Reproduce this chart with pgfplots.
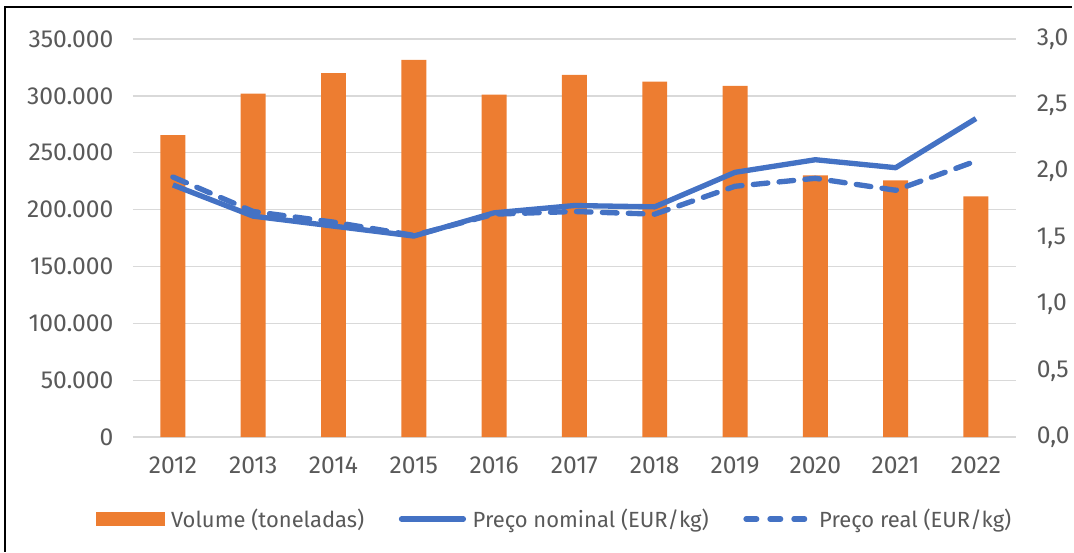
\documentclass[border=0pt]{standalone}
\usepackage{pgfplots}
\pgfplotsset{compat=1.18}
\usepackage{fontspec}
\setmainfont{Fira Sans}
\definecolor{cOrange}{HTML}{ED7D31}
\definecolor{cBlue}{HTML}{4472C4}
\definecolor{cGrid}{HTML}{D9D9D9}
\definecolor{cText}{HTML}{595959}
\pgfplotstableread{
x vol nom real
0 265500 1.90 1.96
1 302000 1.665 1.70
2 320000 1.59 1.62
3 331500 1.515 1.52
4 301000 1.69 1.68
5 318500 1.745 1.70
6 312500 1.735 1.68
7 308800 1.995 1.89
8 230000 2.09 1.95
9 225700 2.03 1.86
10 211700 2.40 2.08
}\datatable
\begin{document}
\begin{tikzpicture}
\path (0,0) rectangle (805.5pt,414.75pt);
\draw[black, line width=1.5pt] (3.75pt,0) -- (3.75pt,409.5pt) -- (805.5pt,409.5pt);
\pgfplotsset{
  every axis/.append style={
    scale only axis,
    width=663.75pt, height=299.25pt,
    at={(99.75pt,86.25pt)}, anchor=south west,
    xmin=-0.5, xmax=10.5,
    axis line style={draw=none},
    major tick length=0pt,
    scaled y ticks=false,
    tick label style={font=\fontsize{18.5}{22}\selectfont, text=cText},
  }
}
\begin{axis}[
  ymin=0, ymax=350000,
  ytick={0,50000,100000,150000,200000,250000,300000,350000},
  yticklabels={0,50.000,100.000,150.000,200.000,250.000,300.000,350.000},
  yticklabel style={xshift=-11pt},
  ymajorgrids, grid style={cGrid, line width=1.1pt},
  xtick={0,...,10},
  xticklabels={2012,2013,2014,2015,2016,2017,2018,2019,2020,2021,2022},
  xticklabel style={yshift=-11pt},
  ybar, bar width=18.75pt,
]
\addplot[fill=cOrange, draw=none] table[x=x, y=vol] {\datatable};
\end{axis}
\begin{axis}[
  ymin=0, ymax=3,
  ytick={0,0.5,1,1.5,2,2.5,3},
  yticklabels={{0,0},{0,5},{1,0},{1,5},{2,0},{2,5},{3,0}},
  axis y line*=right,
  axis x line=none,
  yticklabel style={xshift=12pt},
  legend style={at={(0.478,-0.2055)}, anchor=center, draw=none, fill=none,
    font=\fontsize{16.5}{20}\selectfont, text=cText,
    /tikz/every odd column/.append style={column sep=3pt},
    /tikz/every even column/.append style={column sep=24pt}},
  legend columns=3,
]
\addlegendimage{legend image code/.code={\fill[cOrange] (0pt,-5pt) rectangle (51pt,5pt);}}
\addlegendentry{Volume (toneladas)}
\addplot[cBlue, line width=4pt, line join=round,
  legend image code/.code={\draw[cBlue, line width=4pt, line cap=round] (1.5pt,0pt) -- (48pt,0pt);}]
  table[x=x, y=nom] {\datatable};
\addlegendentry{Preço nominal (EUR/kg)}
\addplot[cBlue, line width=4pt, line join=round, line cap=round, dash pattern=on 11pt off 8.5pt,
  legend image code/.code={\draw[cBlue, line width=4pt, line cap=round, dash pattern=on 8pt off 10pt] (2pt,0pt) -- (50pt,0pt);}]
  table[x=x, y=real] {\datatable};
\addlegendentry{Preço real (EUR/kg)}
\end{axis}
\end{tikzpicture}
\end{document}
